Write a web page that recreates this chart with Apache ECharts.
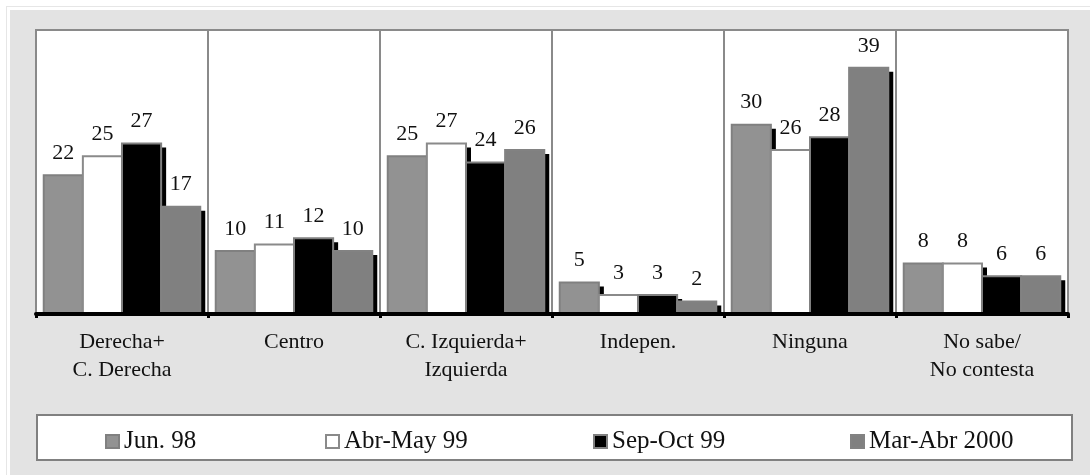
<!DOCTYPE html>
<html>
<head>
<meta charset="utf-8">
<script src="https://cdn.jsdelivr.net/npm/echarts@6/dist/echarts.min.js"></script>
<style>
  html, body {
    margin: 0;
    padding: 0;
    background: #ffffff;
  }
  .frame {
    position: absolute;
    left: 6px;
    top: 6px;
    width: 1084px;
    height: 469px;
    border-top: 1px solid #e6e6e6;
    border-left: 1px solid #e6e6e6;
  }
  .panel {
    position: absolute;
    left: 10px;
    top: 10px;
    width: 1080px;
    height: 465px;
    background: #e3e3e3;
  }
  #chart {
    position: absolute;
    left: 0;
    top: 0;
    width: 1090px;
    height: 475px;
  }
</style>
</head>
<body>
<div class="frame"></div>
<div class="panel"></div>
<div id="chart"></div>
<script>
const categories = ['Derecha+\nC. Derecha', 'Centro', 'C. Izquierda+\nIzquierda', 'Indepen.', 'Ninguna', 'No sabe/\nNo contesta']
const seriesNames = ['Jun. 98', 'Abr-May 99', 'Sep-Oct 99', 'Mar-Abr 2000']
const jun98 = [22, 10, 25, 5, 30, 8]
const abrMay99 = [25, 11, 27, 3, 26, 8]
const sepOct99 = [27, 12, 24, 3, 28, 6]
const marAbr2000 = [17, 10, 26, 2, 39, 6]

const serif = "'Liberation Serif', 'Times New Roman', serif"
const fills = ['#929292', '#ffffff', '#000000', '#808080']
const borders = ['#808080', '#8a8a8a', '#808080', '#828282']
const values = [jun98, abrMay99, sepOct99, marAbr2000]
const legendLeft = [100, 320, 588, 845]
// share of the category band taken by the four bars
const fill = 0.91

const ec = echarts.init(document.getElementById('chart'))

// bar with a hard black drop shadow, placed from the axis scales
function renderBar(params, api) {
  const cat = api.value(0)
  const val = api.value(1)
  const base = api.coord([cat, 0])
  const top = api.coord([cat, val])
  const band = api.size([1, 0])[0]
  const w = band * fill / seriesNames.length
  const x = base[0] - band * fill / 2 + params.seriesIndex * w
  const h = base[1] - top[1]
  return {
    type: 'group',
    children: [
      {
        type: 'rect',
        shape: {x: x + 5, y: top[1] + 4, width: w, height: Math.max(h - 4, 0)},
        style: {fill: '#000'}
      },
      {
        type: 'rect',
        shape: {x: x, y: top[1], width: w, height: h},
        style: {fill: fills[params.seriesIndex], stroke: borders[params.seriesIndex], lineWidth: 2},
        textContent: {
          style: {text: String(val), fontFamily: serif, fontSize: 22, fill: '#111'}
        },
        textConfig: {position: 'top', distance: 10}
      }
    ]
  }
}

ec.setOption({
  animation: false,
  backgroundColor: 'transparent',
  grid: {
    left: 36,
    right: 22,
    top: 30,
    bottom: 161,
    show: true,
    backgroundColor: '#ffffff',
    borderColor: '#8a8a8a',
    borderWidth: 2
  },
  graphic: [{
    type: 'rect',
    left: 36,
    top: 414,
    shape: {width: 1035, height: 45},
    style: {fill: '#ffffff', stroke: '#808080', lineWidth: 2},
    z: -1
  }],
  legend: seriesNames.map((n, i) => ({
    data: [n],
    left: legendLeft[i],
    top: 424,
    icon: 'rect',
    itemWidth: 13,
    itemHeight: 13,
    selectedMode: false,
    textStyle: {fontFamily: serif, fontSize: 25, color: '#111'}
  })),
  xAxis: {
    type: 'category',
    data: categories,
    z: 5,
    axisLine: {lineStyle: {color: '#000', width: 4}},
    axisTick: {show: true, length: 4, lineStyle: {color: '#000', width: 3}},
    splitLine: {show: true, interval: 0, lineStyle: {color: '#8a8a8a', width: 2}},
    axisLabel: {
      interval: 0,
      margin: 14,
      fontFamily: serif,
      fontSize: 22,
      lineHeight: 28,
      color: '#111'
    }
  },
  yAxis: {
    type: 'value',
    min: 0,
    max: 45,
    show: false,
    splitLine: {show: false}
  },
  series: seriesNames.map((n, i) => ({
    name: n,
    type: 'custom',
    renderItem: renderBar,
    encode: {x: 0, y: 1},
    data: values[i].map((v, j) => [j, v]),
    itemStyle: {
      color: fills[i],
      borderColor: borders[i],
      borderWidth: 1.5
    }
  }))
})
</script>
</body>
</html>
